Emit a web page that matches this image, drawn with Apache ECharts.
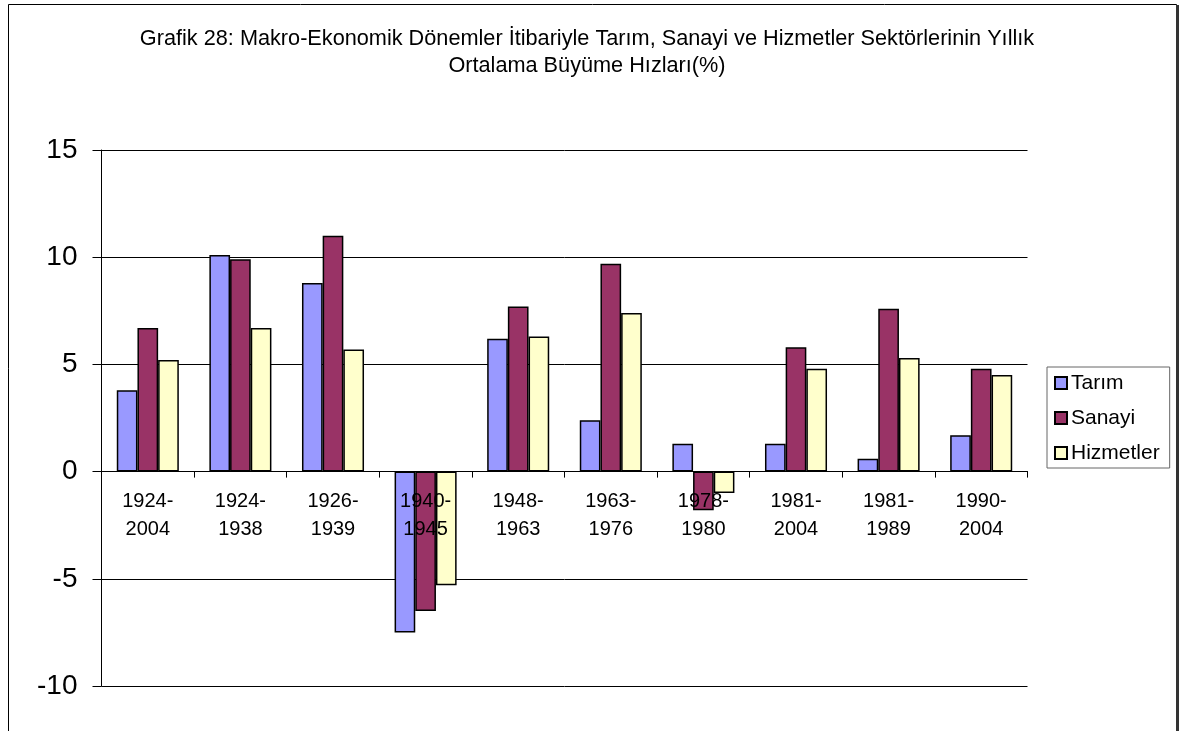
<!DOCTYPE html>
<html>
<head>
<meta charset="utf-8">
<script src="https://cdn.jsdelivr.net/npm/echarts@6/dist/echarts.min.js"></script>
<style>
  html, body { margin: 0; padding: 0; background: #fff; }
  #chart { width: 1183px; height: 731px; }
</style>
</head>
<body>
<div id="chart"></div>
<script>
// Periods (two-line labels)
const periods = ['1924-\n2004', '1924-\n1938', '1926-\n1939', '1940-\n1945', '1948-\n1963',
                 '1963-\n1976', '1978-\n1980', '1981-\n2004', '1981-\n1989', '1990-\n2004'];

// Average annual growth rates (%) per sector
const tarim     = [3.8, 10.1, 8.8, -7.5, 6.2, 2.4, 1.3, 1.3, 0.6, 1.7];
const sanayi    = [6.7, 9.9, 11.0, -6.5, 7.7, 9.7, -1.8, 5.8, 7.6, 4.8];
const hizmetler = [5.2, 6.7, 5.7, -5.3, 6.3, 7.4, -1.0, 4.8, 5.3, 4.5];

const seriesNames = ['Tarım', 'Sanayi', 'Hizmetler'];
const seriesColors = ['#9999FF', '#993366', '#FFFFCC'];

const titleText = 'Grafik 28: Makro-Ekonomik Dönemler İtibariyle Tarım, Sanayi ve Hizmetler Sektörlerinin Yıllık\nOrtalama Büyüme Hızları(%)';

const font = '"Liberation Sans", Arial, sans-serif';

// value range of the y axis
const yMin = -10, yMax = 15, yStep = 5;

// plot area
const plot = { left: 101.5, top: 150, width: 926, height: 536 };
// shift the category axis from the bottom edge up to the zero line
const zeroOffset = plot.height * (0 - yMin) / (yMax - yMin);

const chart = echarts.init(document.getElementById('chart'), null, { renderer: 'canvas' });

const seriesData = [tarim, sanayi, hizmetler];

chart.setOption({
  animation: false,
  backgroundColor: '#fff',
  textStyle: { fontFamily: font, color: '#000' },
  title: {
    text: titleText,
    left: 582,
    top: 21,
    textAlign: 'center',
    textStyle: { fontFamily: font, fontSize: 21.7, fontWeight: 'normal', color: '#000', lineHeight: 27 }
  },
  legend: {
    orient: 'vertical',
    left: 1047,
    top: 367,
    icon: 'rect',
    itemWidth: 12,
    itemHeight: 12,
    itemGap: 13,
    padding: [5, 10, 4, 7],
    borderColor: '#666',
    borderWidth: 1,
    backgroundColor: '#fff',
    textStyle: { fontFamily: font, fontSize: 21, color: '#000', lineHeight: 22, padding: [0, 0, 0, -1] },
    data: seriesNames
  },
  grid: {
    left: plot.left, top: plot.top, width: plot.width, height: plot.height,
    containLabel: false,
    outerBoundsMode: 'none'
  },
  xAxis: {
    type: 'category',
    data: periods,
    z: 10,
    position: 'bottom',
    offset: -zeroOffset,
    axisLine: { onZero: false, lineStyle: { color: '#000', width: 1 } },
    axisTick: { show: true, length: 6, lineStyle: { color: '#000' } },
    axisLabel: { fontFamily: font, fontSize: 20, color: '#000', lineHeight: 28, margin: 16, interval: 0 },
    splitLine: { show: false }
  },
  yAxis: {
    type: 'value',
    min: yMin,
    max: yMax,
    interval: yStep,
    axisLine: { show: true, lineStyle: { color: '#000', width: 1 } },
    axisTick: { show: true, length: 9, lineStyle: { color: '#000' } },
    axisLabel: { fontFamily: font, fontSize: 28, color: '#000', margin: 24 },
    splitLine: { show: true, lineStyle: { color: '#000', width: 1 } }
  },
  series: seriesNames.map((name, i) => ({
    name: name,
    type: 'bar',
    data: seriesData[i],
    barGap: '0%',
    barCategoryGap: '33%',
    itemStyle: { color: seriesColors[i], borderColor: '#000', borderWidth: 1.5 }
  })),
  graphic: [
    {
      type: 'rect',
      silent: true,
      z: -1,
      shape: { x: 8.5, y: 4.5, width: 1168, height: 800 },
      style: { fill: null, stroke: '#000', lineWidth: 1 }
    },
    {
      type: 'line',
      silent: true,
      shape: { x1: 1177.5, y1: 5, x2: 1177.5, y2: 731 },
      style: { stroke: '#333', lineWidth: 3 }
    }
  ]
});
</script>
</body>
</html>
